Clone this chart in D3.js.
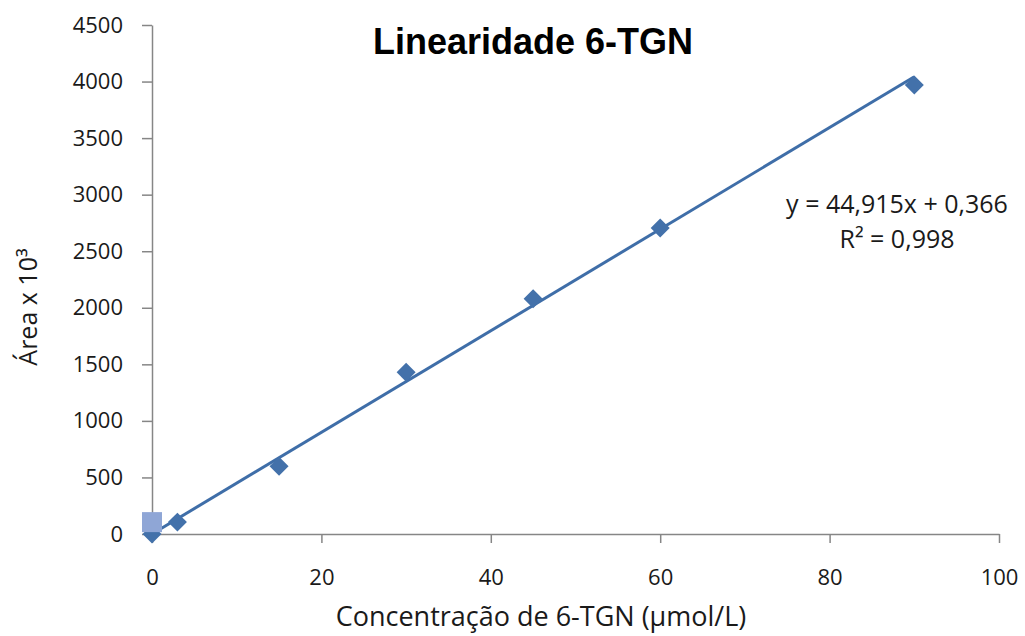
<!DOCTYPE html>
<html>
<head>
<meta charset="utf-8">
<script src="https://cdn.jsdelivr.net/npm/d3@7"></script>
<style>
  body { margin: 0; background: #fff; }
  .axis path, .axis line { stroke: #868686; stroke-width: 1.5; }
  .axis text { font-family: "Open Sans", sans-serif; font-size: 22px; fill: #1a1a1a; }
</style>
</head>
<body>
<svg id="chart"></svg>
<script>
// data
const conc = [0, 3, 15, 30, 45, 60, 90]
const area = [0, 105, 600, 1430, 2080, 2705, 3970]
const extraX = [0]
const extraY = [105]
const xTicks = [0, 20, 40, 60, 80, 100]
const yTicks = [0, 500, 1000, 1500, 2000, 2500, 3000, 3500, 4000, 4500]
const slope = 44.915, intercept = 0.366
const fitRange = [0, 90]

const W = 1025, H = 636
const svg = d3.select('#chart').attr('width', W).attr('height', H)

const x = d3.scaleLinear().domain([0, 100]).range([152, 999])
const y = d3.scaleLinear().domain([0, 4500]).range([534, 25])

// axes
svg.append('g').classed('axis', true)
    .attr('transform', `translate(0,${y(0)})`)
    .call(d3.axisBottom(x).tickValues(xTicks).tickFormat(d3.format('d'))
        .tickSize(9).tickPadding(26).tickSizeOuter(0))

svg.append('g').classed('axis', true)
    .attr('transform', `translate(${x(0)},0)`)
    .call(d3.axisLeft(y).tickValues(yTicks).tickFormat(d3.format('d'))
        .tickSize(10).tickPadding(19).tickSizeOuter(0))

// trendline
svg.append('line')
    .attr('x1', x(fitRange[0])).attr('y1', y(slope * fitRange[0] + intercept))
    .attr('x2', x(fitRange[1])).attr('y2', y(slope * fitRange[1] + intercept))
    .attr('stroke', '#3f6ea8').attr('stroke-width', 3)

// diamonds
const diamond = d3.symbol().type(d3.symbolDiamond2).size(230)
svg.append('g').selectAll('path')
    .data(conc.map((c, i) => [c, area[i]]))
    .enter().append('path')
    .attr('d', diamond)
    .attr('transform', d => `translate(${x(d[0])},${y(d[1])})`)
    .attr('fill', '#4371aa')

// second series (square)
svg.append('g').selectAll('rect')
    .data(extraX.map((c, i) => [c, extraY[i]]))
    .enter().append('rect')
    .attr('x', d => x(d[0]) - 10).attr('y', d => y(d[1]) - 10)
    .attr('width', 20).attr('height', 20)
    .attr('fill', '#8fa6d6')

// title
svg.append('text')
    .attr('x', 533).attr('y', 54)
    .attr('text-anchor', 'middle')
    .style('font-family', '"Liberation Sans", Arial, sans-serif')
    .style('font-weight', 'bold').style('font-size', '36px')
    .text('Linearidade 6-TGN')

// equation
const eq = svg.append('text')
    .attr('text-anchor', 'middle')
    .style('font-family', '"Open Sans", sans-serif').style('font-size', '25px')
    .attr('fill', '#1a1a1a')
eq.append('tspan').attr('x', 897).attr('y', 213).text('y = 44,915x + 0,366')
eq.append('tspan').attr('x', 897).attr('y', 248).text('R² = 0,998')

// axis titles
svg.append('text')
    .attr('x', 541).attr('y', 626)
    .attr('text-anchor', 'middle')
    .style('font-family', '"Open Sans", sans-serif').style('font-size', '27px')
    .attr('fill', '#1a1a1a')
    .text('Concentração de 6-TGN (µmol/L)')

svg.append('text')
    .attr('transform', 'translate(37,307) rotate(-90)')
    .attr('text-anchor', 'middle')
    .style('font-family', '"Open Sans", sans-serif').style('font-size', '25px')
    .attr('fill', '#1a1a1a')
    .text('Área x 10³')
</script>
</body>
</html>
